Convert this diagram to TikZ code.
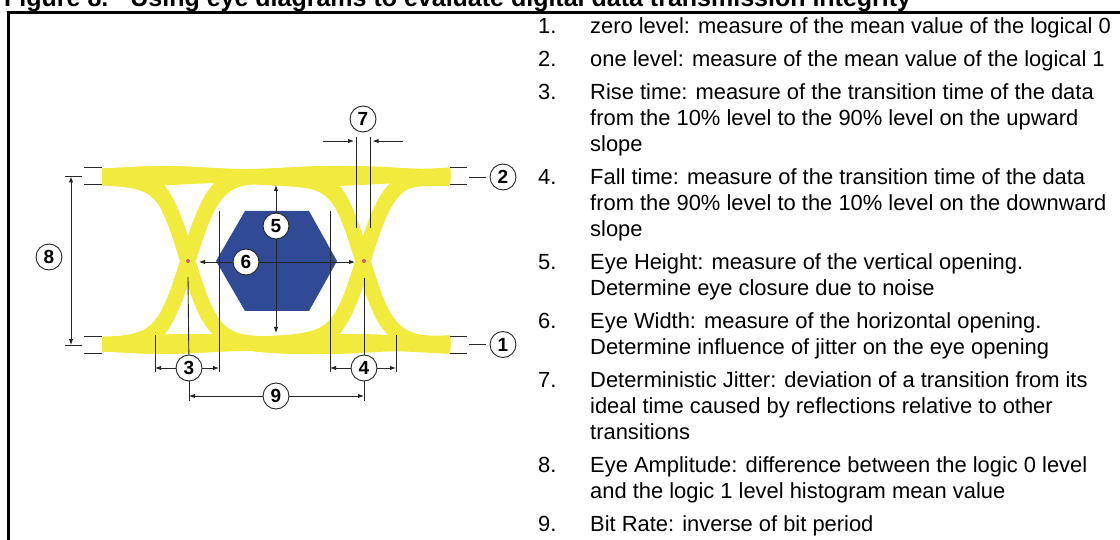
\documentclass[tikz,border=0pt]{standalone}
\usepackage{fontspec}
\setmainfont{Liberation Sans}
\usetikzlibrary{arrows.meta}

\definecolor{eyeyellow}{RGB}{240,235,60}
\definecolor{eyeblue}{RGB}{48,74,150}
\definecolor{crossdot}{RGB}{215,90,110}

\begin{document}
\begin{tikzpicture}[x=1pt, y=-1pt,
    declare function={sg(\t)=(1+tanh(max(-4,min(4,\t))))/2;},
    eyeline/.style={eyeyellow, line width=11pt},
    guide/.style={black!85, line width=0.9pt},
    dim/.style={guide, -{Latex[length=6pt,width=4.5pt]}},
    num/.style={circle, draw=black!85, line width=0.9pt, fill=white, minimum size=26pt,
      inner sep=0pt, font=\bfseries\fontsize{19}{19}\selectfont},
    itemno/.style={anchor=base west, inner sep=0pt, font=\fontsize{21.9}{26}\selectfont},
    itemtxt/.style={anchor=north west, inner sep=0pt, align=left, font=\fontsize{21.9}{26}\selectfont}]
  \useasboundingbox (0,0) rectangle (1120,540);

  % Titulo y marco
  \node[anchor=base west, inner sep=0pt, font=\bfseries\fontsize{25}{28}\selectfont] (title) at (4,7)
    {Figure 8.\hspace{22pt}Using eye diagrams to evaluate digital data transmission integrity};
  \draw[line width=2.5pt] (8.5,540) -- (8.5,12.5) -- (1120,12.5);

  % Bandas del diagrama de ojo
  \begin{scope}
    \clip (102,140) rectangle (450,380);
    \foreach \a/\b/\c in {1/1/1,1/1/-1,1/-1/1,1/-1/-1,-1/1/1,-1/1/-1,-1/-1/1,-1/-1/-1}
      \foreach \dx/\dy in {0/-3,0/3,-2/0,2/0}
        \draw[eyeline, shift={(\dx,\dy)}] plot[domain=95:457, samples=100, smooth]
          (\x, {260-84*((\a)+(\b-(\a))*sg((\x-188)/26)+(\c-(\b))*sg((\x-363)/26))
                +1.5*sin(2.2*\x+40*\dy+30*\a)});
  \end{scope}

  % Apertura del ojo
  \fill[eyeblue] (216,261) -- (245,211) -- (309,211) -- (337,261) -- (309,311) -- (245,311) -- cycle;
  \coordinate (xl) at (188,261);
  \coordinate (xr) at (364,261);
  \fill[crossdot] (xl) circle (2);
  \fill[crossdot] (xr) circle (2);

  % Marcas de nivel
  \draw[guide] (84,167.5) -- (102,167.5) (84,184.5) -- (102,184.5);
  \draw[guide] (84,336.5) -- (102,336.5) (84,353) -- (102,353);
  \draw[guide] (450,167.5) -- (467,167.5) (450,184.5) -- (467,184.5);
  \draw[guide] (450,336.5) -- (467,336.5) (450,353) -- (467,353);

  % Niveles 1 y 0
  \node[num] (c2) at (503,177) {2};
  \node[num] (c1) at (503,344.5) {1};
  \coordinate (l2) at (469,177);
  \coordinate (l1) at (469,344.5);
  \draw[guide, shorten >=4pt] (l2) -- (c2);
  \draw[guide, shorten >=4pt] (l1) -- (c1);

  % Amplitud
  \node[num] (c8) at (49,257) {8};
  \coordinate (amp1) at (71,176.5);
  \coordinate (amp0) at (71,345);
  \draw[guide] (65,176.5) -- (82,176.5) (65,345) -- (82,345);
  \draw[guide, {Latex[length=6pt,width=4.5pt]}-{Latex[length=6pt,width=4.5pt]}] (amp1) -- (amp0);

  % Jitter
  \node[num] (c7) at (363,119) {7};
  \draw[guide] (356.5,137) -- (356.5,228) (370,137) -- (370,228);
  \coordinate (j0) at (323,141);
  \coordinate (j1) at (403,141);
  \draw[dim] (j0) -- (354,141);
  \draw[dim] (j1) -- (372.5,141);

  % Altura y anchura del ojo
  \node[num] (c5) at (276,226) {5};
  \node[num] (c6) at (246,262) {6};
  \coordinate (h1) at (276,185);
  \coordinate (h0) at (276,333);
  \coordinate (w0) at (199,262);
  \coordinate (w1) at (355,262);
  \draw[dim] (c5) -- (h1);
  \draw[dim] (c5) -- (h0);
  \draw[dim] (c6) -- (w0);
  \draw[dim] (c6) -- (w1);

  % Subida, bajada y periodo
  \draw[guide] (219,211) -- (219,372) (330,211) -- (330,372);
  \draw[guide] (155,335) -- (155,372) (396,335) -- (396,372);
  \node[num] (c3) at (189,368) {3};
  \node[num] (c4) at (364,368) {4};
  \node[num] (c9) at (276,396) {9};
  \coordinate (r0) at (155,368);
  \coordinate (r1) at (219,368);
  \coordinate (f0) at (330,368);
  \coordinate (f1) at (396,368);
  \coordinate (b0) at (189,401);
  \coordinate (b1) at (364,401);
  \draw[guide] ([yshift=-16pt]xl) -- (c3);
  \draw[guide] ([yshift=-17pt]xr) -- (c4);
  \draw[guide] (c3) -- (b0);
  \draw[guide] (c4) -- (b1);
  \draw[dim] (c3) -- (r0);
  \draw[dim] (c3) -- (r1);
  \draw[dim] (c4) -- (f0);
  \draw[dim] (c4) -- (f1);
  \draw[dim] (c9) -- (c9 -| b0);
  \draw[dim] (c9) -- (c9 -| b1);

  % Leyenda
  \node[itemno] (n1) at (538,33.7) {1.};
  \node[itemtxt] (d1) at (590,15.5) {\strut zero level: measure of the mean value of the logical 0};
  \node[itemno] (n2) at (538,66.7) {2.};
  \node[itemtxt] (d2) at (590,48.5) {\strut one level: measure of the mean value of the logical 1};
  \node[itemno] (n3) at (538,99.7) {3.};
  \node[itemtxt] (d3) at (590,81.5) {\strut Rise time: measure of the transition time of the data\\
    from the 10\% level to the 90\% level on the upward\\ slope};
  \node[itemno] (n4) at (538,184.7) {4.};
  \node[itemtxt] (d4) at (590,166.5) {\strut Fall time: measure of the transition time of the data\\
    from the 90\% level to the 10\% level on the downward\\ slope};
  \node[itemno] (n5) at (538,269.7) {5.};
  \node[itemtxt] (d5) at (590,251.5) {\strut Eye Height: measure of the vertical opening.\\
    Determine eye closure due to noise};
  \node[itemno] (n6) at (538,328.7) {6.};
  \node[itemtxt] (d6) at (590,310.5) {\strut Eye Width: measure of the horizontal opening.\\
    Determine influence of jitter on the eye opening};
  \node[itemno] (n7) at (538,387.7) {7.};
  \node[itemtxt] (d7) at (590,369.5) {\strut Deterministic Jitter: deviation of a transition from its\\
    ideal time caused by reflections relative to other\\ transitions};
  \node[itemno] (n8) at (538,472.7) {8.};
  \node[itemtxt] (d8) at (590,454.5) {\strut Eye Amplitude: difference between the logic 0 level\\
    and the logic 1 level histogram mean value};
  \node[itemno] (n9) at (538,531.7) {9.};
  \node[itemtxt] (d9) at (590,513.5) {\strut Bit Rate: inverse of bit period};
\end{tikzpicture}
\end{document}
